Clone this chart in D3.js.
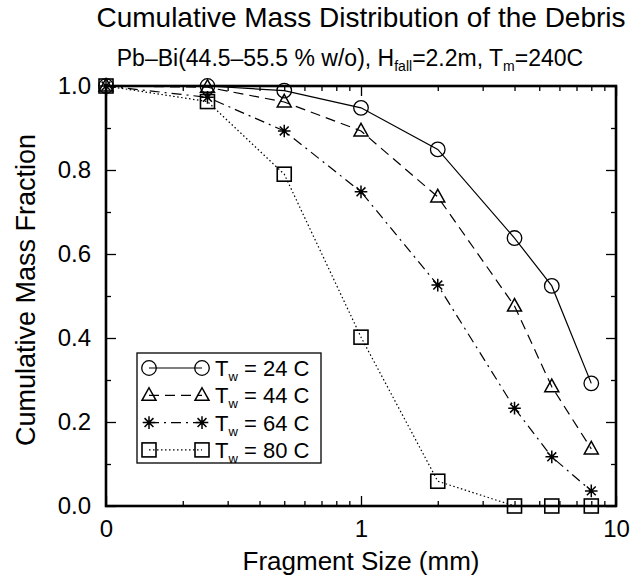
<!DOCTYPE html>
<html>
<head>
<meta charset="utf-8">
<script src="https://cdn.jsdelivr.net/npm/d3@7"></script>
<style>
  body { margin: 0; background: #fff; }
  text { font-family: "Liberation Sans", Arial, Helvetica, sans-serif; fill: #000; }
</style>
</head>
<body>
<div class="chart"></div>
<script>
var svgWidth = 640;
var svgHeight = 583;

var margin = { top: 86, right: 24, bottom: 77, left: 106 };
var width = svgWidth - margin.left - margin.right;
var height = svgHeight - margin.top - margin.bottom;

// data: sieve size (mm), 0 is drawn on the left edge
var sizes = [0, 0.25, 0.5, 1, 2, 4, 5.6, 8];
var tw24 = [1.0, 1.0, 0.989, 0.948, 0.849, 0.638, 0.524, 0.292];
var tw44 = [1.0, 0.997, 0.962, 0.893, 0.736, 0.476, 0.284, 0.136];
var tw64 = [1.0, 0.973, 0.893, 0.748, 0.526, 0.233, 0.117, 0.036];
var tw80 = [1.0, 0.963, 0.79, 0.402, 0.059, 0, 0, 0];
var waterTemps = ["24", "44", "64", "80"];

var xTickVals = [0.1, 1, 10];
var xTickLabels = ["0", "1", "10"];
var xMinorTicks = [0.2, 0.3, 0.4, 0.5, 0.6, 0.7, 0.8, 0.9, 2, 3, 4, 5, 6, 7, 8, 9];
var yTicks = [0, 0.2, 0.4, 0.6, 0.8, 1.0];
var yMinorTicks = [0.1, 0.3, 0.5, 0.7, 0.9];

var series = [tw24, tw44, tw64, tw80];
var dashes = ["none", "10,6", "10,5,2,5", "1.5,2.5"];
var markers = ["circle", "triangle", "star", "square"];

var svg = d3.select(".chart")
  .append("svg")
  .attr("width", svgWidth)
  .attr("height", svgHeight);

var chartGroup = svg.append("g")
  .attr("transform", `translate(${margin.left}, ${margin.top})`);

// scales
var xScale = d3.scaleLog()
  .domain([0.1, 10])
  .range([0, width])
  .clamp(true);

var yScale = d3.scaleLinear()
  .domain([0, 1])
  .range([height, 0]);

// axes, ticks pointing inward
var fmtY = d3.format(".1f");

chartGroup.append("g")
  .attr("class", "axis")
  .attr("transform", `translate(0, ${height})`)
  .call(d3.axisBottom(xScale).tickValues(xTickVals)
    .tickFormat((d, i) => xTickLabels[i]).tickSize(-10).tickPadding(14));

chartGroup.append("g")
  .attr("class", "minor")
  .attr("transform", `translate(0, ${height})`)
  .call(d3.axisBottom(xScale).tickValues(xMinorTicks).tickFormat("").tickSize(-5));

chartGroup.append("g")
  .attr("class", "axis")
  .call(d3.axisTop(xScale).tickValues(xTickVals).tickFormat("").tickSize(-10));

chartGroup.append("g")
  .attr("class", "minor")
  .call(d3.axisTop(xScale).tickValues(xMinorTicks).tickFormat("").tickSize(-5));

chartGroup.append("g")
  .attr("class", "axis")
  .call(d3.axisLeft(yScale).tickValues(yTicks).tickFormat(fmtY).tickSize(-10).tickPadding(15));

chartGroup.append("g")
  .attr("class", "minor")
  .call(d3.axisLeft(yScale).tickValues(yMinorTicks).tickFormat("").tickSize(-5));

chartGroup.append("g")
  .attr("class", "axis")
  .attr("transform", `translate(${width}, 0)`)
  .call(d3.axisRight(yScale).tickValues(yTicks).tickFormat("").tickSize(-10));

chartGroup.append("g")
  .attr("class", "minor")
  .attr("transform", `translate(${width}, 0)`)
  .call(d3.axisRight(yScale).tickValues(yMinorTicks).tickFormat("").tickSize(-5));

chartGroup.selectAll(".axis path, .minor path").remove();
chartGroup.selectAll(".tick line").attr("stroke", "#000").attr("stroke-width", 1.3);
chartGroup.selectAll(".axis text")
  .style("font-size", "24px")
  .style("font-family", "Liberation Sans, Arial, sans-serif");

// frame
chartGroup.append("rect")
  .attr("width", width)
  .attr("height", height)
  .attr("fill", "none")
  .attr("stroke", "#000")
  .attr("stroke-width", 2.6);

// marker drawing
function drawMarker(g, type, cx, cy, s) {
  if (type === "circle") {
    g.append("circle").attr("cx", cx).attr("cy", cy).attr("r", s * 0.52)
      .attr("fill", "none").attr("stroke", "#000").attr("stroke-width", 1.3);
  } else if (type === "square") {
    g.append("rect").attr("x", cx - s / 2).attr("y", cy - s / 2)
      .attr("width", s).attr("height", s)
      .attr("fill", "none").attr("stroke", "#000").attr("stroke-width", 1.6);
  } else if (type === "triangle") {
    var h = s * 0.9;
    g.append("path")
      .attr("d", `M${cx},${cy - h * 0.6}L${cx + s / 2},${cy + h * 0.4}L${cx - s / 2},${cy + h * 0.4}Z`)
      .attr("fill", "none").attr("stroke", "#000").attr("stroke-width", 1.5);
  } else {
    var r = s * 0.45, p = "";
    for (var k = 0; k < 4; k++) {
      var a = k * Math.PI / 4;
      p += `M${cx - r * Math.cos(a)},${cy - r * Math.sin(a)}L${cx + r * Math.cos(a)},${cy + r * Math.sin(a)}`;
    }
    g.append("path").attr("d", p).attr("stroke", "#000").attr("stroke-width", 1.5);
    g.append("circle").attr("cx", cx).attr("cy", cy).attr("r", 2).attr("fill", "#000");
  }
}

// lines
var line = d3.line()
  .x((d, i) => xScale(sizes[i]))
  .y(d => yScale(d));

series.forEach(function(vals, si) {
  chartGroup.append("path")
    .attr("d", line(vals))
    .attr("fill", "none")
    .attr("stroke", "#000")
    .attr("stroke-width", 1.2)
    .attr("stroke-dasharray", dashes[si]);
});

series.forEach(function(vals, si) {
  var g = chartGroup.append("g");
  vals.forEach(function(v, i) {
    drawMarker(g, markers[si], xScale(sizes[i]), yScale(v), 14);
  });
});

// legend
var legend = svg.append("g").attr("transform", "translate(137, 353)");
legend.append("rect")
  .attr("width", 184)
  .attr("height", 110)
  .attr("fill", "#fff")
  .attr("stroke", "#000")
  .attr("stroke-width", 1.3);

waterTemps.forEach(function(t, i) {
  var yy = 15 + i * 27.3;
  legend.append("line")
    .attr("x1", 12).attr("x2", 65)
    .attr("y1", yy).attr("y2", yy)
    .attr("stroke", "#000").attr("stroke-width", 1.2)
    .attr("stroke-dasharray", dashes[i]);
  drawMarker(legend, markers[i], 12, yy, 14);
  drawMarker(legend, markers[i], 65, yy, 14);
  var txt = legend.append("text")
    .attr("x", 78).attr("y", yy + 8)
    .style("font-size", "22px");
  txt.append("tspan").text("T");
  txt.append("tspan").attr("dy", 5).style("font-size", "13px").text("w");
  txt.append("tspan").attr("dy", -5).text(" = " + t + " C");
});

// titles
svg.append("text")
  .attr("x", margin.left + width / 2)
  .attr("y", 27)
  .attr("text-anchor", "middle")
  .style("font-size", "28px")
  .text("Cumulative Mass Distribution of the Debris");

var sub = svg.append("text")
  .attr("x", 350)
  .attr("y", 66)
  .attr("text-anchor", "middle")
  .style("font-size", "23px");
sub.append("tspan").text("Pb\u2013Bi(44.5\u201355.5 % w/o), H");
sub.append("tspan").attr("dy", 5).style("font-size", "14px").text("fall");
sub.append("tspan").attr("dy", -5).text("=2.2m, T");
sub.append("tspan").attr("dy", 5).style("font-size", "14px").text("m");
sub.append("tspan").attr("dy", -5).text("=240C");

svg.append("text")
  .attr("x", margin.left + width / 2)
  .attr("y", 570)
  .attr("text-anchor", "middle")
  .style("font-size", "26px")
  .text("Fragment Size (mm)");

svg.append("text")
  .attr("transform", `translate(35, 290) rotate(-90)`)
  .attr("text-anchor", "middle")
  .style("font-size", "27px")
  .text("Cumulative Mass Fraction");
</script>
</body>
</html>
